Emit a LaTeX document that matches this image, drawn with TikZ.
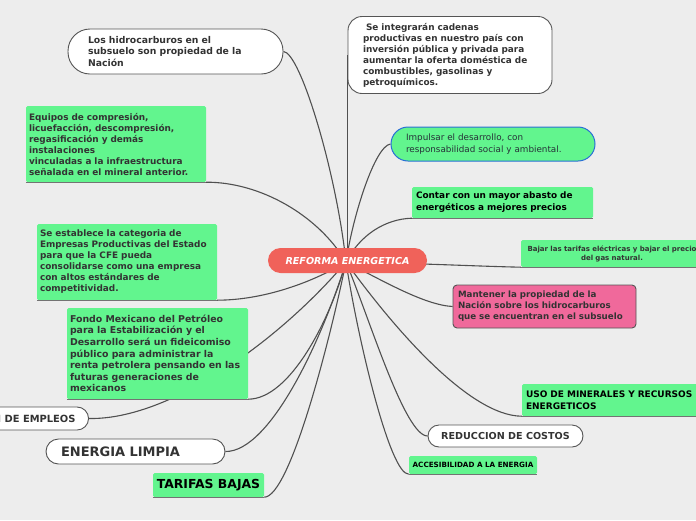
\documentclass[tikz,border=0pt]{standalone}
\usepackage{fontspec}
\setmainfont{DejaVu Sans}
\usetikzlibrary{backgrounds}
\definecolor{bgcol}{HTML}{EDEDED}
\definecolor{mgreen}{HTML}{62F58E}
\definecolor{mpink}{HTML}{F0699B}
\definecolor{mred}{HTML}{F0625A}
\definecolor{txtcol}{HTML}{333333}
\definecolor{lncol}{HTML}{505050}
\definecolor{mblue}{HTML}{2A6FD6}
\definecolor{pillcol}{HTML}{555555}
\definecolor{impcol}{HTML}{263238}
\begin{document}
\begin{tikzpicture}[x=1pt,y=-1pt,
  lnk/.style={draw=lncol,line width=1.1pt},
  uline/.style={draw=lncol!80,line width=1.2pt},
  gbox/.style={fill=mgreen,rounded corners=1.5pt,inner ysep=0pt,align=left,text=txtcol},
  wpill/.style={fill=white,draw=pillcol,line width=0.9pt,inner ysep=0pt,text=txtcol},
  para/.style={font=\fontsize{8.9}{11}\selectfont\bfseries}]
\useasboundingbox (0,0) rectangle (696,520);
\clip (0,0) rectangle (696,520);
% central
\node[fill=mred,rounded corners=12.5pt,minimum width=159pt,minimum height=25pt,inner sep=0pt,text=white,font=\fontsize{9.6}{11}\selectfont\bfseries\itshape] (ref) at (347.5,260.5) {REFORMA ENERGETICA};
\coordinate (hub) at (346,262);
% nodes
\node[wpill,rounded corners=22pt,para,font=\fontsize{9.3}{11.5}\selectfont\bfseries,minimum width=215pt,minimum height=45pt,text width=175pt,inner xsep=20pt,align=left] (hidro) at (175.5,51.5) {Los hidrocarburos en el\\subsuelo son propiedad de la\\Nación};
\node[wpill,rounded corners=14pt,para,minimum width=204pt,minimum height=77pt,text width=174pt,inner xsep=15pt,align=left] (integ) at (450,55) {\hspace*{3pt}Se integrarán cadenas\\productivas en nuestro país con\\inversión pública y privada para\\aumentar la oferta doméstica de\\combustibles, gasolinas y\\petroquímicos.};
\node[gbox,draw=mblue,line width=1pt,rounded corners=17pt,font=\fontsize{8.8}{12}\selectfont,text=impcol,minimum width=204pt,minimum height=34pt,text width=174pt,inner xsep=15pt] (impul) at (493,144) {Impulsar el desarrollo, con\\responsabilidad social y ambiental.};
\node[gbox,para,font=\fontsize{8.9}{12}\selectfont\bfseries,text=black,minimum width=181pt,minimum height=31pt,text width=173pt,inner xsep=4pt] (contar) at (502.5,202.5) {Contar con un mayor abasto de\\energéticos a mejores precios};
\node[gbox,font=\fontsize{7}{9}\selectfont\bfseries,align=center,minimum width=182pt,minimum height=27pt,text width=176pt,inner xsep=3pt] (bajar) at (612,253.5) {Bajar las tarifas eléctricas y bajar el precio\\del gas natural.};
\node[fill=mpink,draw=pillcol,line width=0.9pt,rounded corners=4pt,para,font=\fontsize{8.7}{11}\selectfont\bfseries,text=txtcol,align=left,minimum width=183pt,minimum height=43pt,text width=173pt,inner xsep=5pt,inner ysep=0pt] (mant) at (544.5,306.5) {Mantener la propiedad de la\\Nación sobre los hidrocarburos\\que se encuentran en el subsuelo};
\node[gbox,font=\fontsize{9}{12}\selectfont\bfseries,text=black,minimum width=198pt,minimum height=32pt,text width=190pt,inner xsep=4pt] (uso) at (621,400) {USO DE MINERALES Y RECURSOS\\ENERGETICOS};
\node[wpill,rounded corners=11pt,font=\fontsize{9.6}{11}\selectfont\bfseries,minimum width=155pt,minimum height=22pt,inner xsep=4pt] (reduc) at (505.5,436) {REDUCCION DE COSTOS};
\node[gbox,font=\fontsize{7.2}{9}\selectfont\bfseries,text=black,align=center,minimum width=128pt,minimum height=18pt,inner xsep=2pt] (acces) at (473,465) {ACCESIBILIDAD A LA ENERGIA};
\node[gbox,font=\fontsize{12.4}{14}\selectfont\bfseries,text=black,align=center,minimum width=111pt,minimum height=24pt,inner xsep=1pt] (tarif) at (208.5,485) {TARIFAS BAJAS};
\node[wpill,rounded corners=12.5pt,font=\fontsize{13}{14}\selectfont\bfseries,minimum width=179pt,minimum height=25pt,text width=149pt,inner xsep=15pt,align=left] (limpia) at (135.5,451.5) {ENERGIA LIMPIA};
\node[wpill,rounded corners=11.5pt,font=\fontsize{9.9}{11}\selectfont\bfseries,minimum height=23pt,inner xsep=13pt,anchor=east] (empl) at (89,418.5) {GENERACION DE EMPLEOS};
\node[gbox,font=\fontsize{9.4}{11.6}\selectfont\bfseries,minimum width=181pt,minimum height=91pt,text width=175pt,inner xsep=3pt] (fondo) at (157.5,353.5) {Fondo Mexicano del Petróleo\\para la Estabilización y el\\Desarrollo será un fideicomiso\\público para administrar la\\renta petrolera pensando en las\\futuras generaciones de\\mexicanos};
\node[gbox,para,minimum width=180pt,minimum height=76pt,text width=174pt,inner xsep=3pt] (estab) at (127,262) {Se establece la categoria de\\Empresas Productivas del Estado\\para que la CFE pueda\\consolidarse como una empresa\\con altos estándares de\\competitividad.};
\node[gbox,para,minimum width=180pt,minimum height=76pt,text width=174pt,inner xsep=3pt] (equip) at (116,144) {Equipos de compresión,\\licuefacción, descompresión,\\regasificación y demás\\instalaciones\\vinculadas a la infraestructura\\señalada en el mineral anterior.};
% underlines
\foreach \n in {contar,bajar,uso,acces,tarif,fondo,estab,equip}
  \draw[uline] ([yshift=-0.6pt]\n.south west) -- ([yshift=-0.6pt]\n.south east);
% connectors
\begin{pgfonlayer}{background}
\fill[bgcol] (0,0) rectangle (696,520);
\draw[lnk] (hidro.east) .. controls (300,52) and (336,170) .. (hub);
\draw[lnk] (integ.west) -- (integ.west |- hub);
\draw[lnk] (impul.west) .. controls (375,146) and (353,215) .. (hub);
\draw[lnk] (contar.south west) .. controls (385,219) and (360,235) .. (hub);
\draw[lnk] (bajar.south west) .. controls (470,266) and (440,264) .. (hub);
\draw[lnk] (mant.west) .. controls (425,305) and (385,282) .. (hub);
\draw[lnk] (uso.south west) .. controls (470,416) and (395,330) .. (hub);
\draw[lnk] (reduc.west) .. controls (405,436) and (370,320) .. (hub);
\draw[lnk] (acces.south west) .. controls (390,475) and (358,340) .. (hub);
\draw[lnk] (tarif.south east) .. controls (290,497) and (330,340) .. (hub);
\draw[lnk] (limpia.east) .. controls (270,452) and (322,340) .. (hub);
\draw[lnk] (empl.east) .. controls (170,420) and (280,340) .. (hub);
\draw[lnk] (fondo.south east) .. controls (290,399) and (330,320) .. (hub);
\draw[lnk] (estab.south east) .. controls (270,300) and (320,278) .. (hub);
\draw[lnk] (equip.south east) .. controls (260,182) and (318,215) .. (hub);
\end{pgfonlayer}
\end{tikzpicture}
\end{document}
